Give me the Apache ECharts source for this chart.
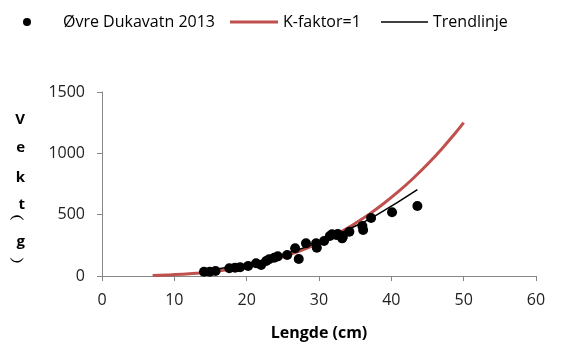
<!DOCTYPE html>
<html>
<head>
<meta charset="utf-8">
<script src="https://cdn.jsdelivr.net/npm/echarts@6/dist/echarts.min.js"></script>
<style>html,body{margin:0;padding:0;background:#fff}#c{width:573px;height:347px}</style>
</head>
<body>
<div id="c"></div>
<script>
// Observed fish: length (cm) and weight (g)
var lengths = [14.1,14.9,15.7,17.6,18.4,19.1,20.2,21.3,22.0,22.7,23.1,23.8,24.3,25.6,26.7,27.2,28.2,29.6,29.7,30.7,31.5,31.8,32.4,32.6,33.2,33.3,34.2,36.0,36.1,37.2,40.1,43.6];
var weights = [35,35,41,63,68,71,81,104,90,122,136,149,160,171,226,139,266,266,231,285,326,340,334,342,307,320,361,407,375,473,519,570];
// K-factor = 1 reference curve
var kLengths = [7,9,11,13,15,17,19,21,23,25,27,29,31,33,35,37,39,41,43,45,47,49,50];
var kWeights = [3.4,7.3,13.3,22.0,33.8,49.1,68.6,92.6,121.7,156.3,196.8,243.9,297.9,359.4,428.8,506.5,593.2,689.2,795.1,911.3,1038.2,1176.5,1250];
// Trendline
var tLengths = [14,18,22,26,30,34,38,43.6];
var tWeights = [41,77,127,193,276,378,499,704];
// Axis ticks
var xTicks = {min:0, max:60, step:10};
var yTicks = {min:0, max:1500, step:500};

var zip = function(a,b){return a.map(function(v,i){return [v,b[i]];});};
var FONT = 'Open Sans';
var FS = 16;
var chart = echarts.init(document.getElementById('c'));
chart.setOption({
  animation:false,
  textStyle:{fontFamily:FONT},
  grid:{left:102,right:37,top:92,bottom:71},
  legend:[
    {data:[{name:'Øvre Dukavatn 2013',icon:'circle'}],left:23,top:14,padding:0,itemWidth:8,itemHeight:8,
     formatter:function(n){return '{s|}'+n;},
     textStyle:{fontFamily:FONT,fontSize:FS,color:'#000',rich:{s:{width:27}}}},
    {data:[{name:'K-faktor=1',icon:'rect'}],left:230,top:14,padding:0,itemWidth:48,itemHeight:3,
     textStyle:{fontFamily:FONT,fontSize:FS,color:'#000'}},
    {data:[{name:'Trendlinje',icon:'rect'}],left:381,top:14,padding:0,itemWidth:47,itemHeight:1.5,
     textStyle:{fontFamily:FONT,fontSize:FS,color:'#000'}}
  ],
  xAxis:{
    type:'value',min:xTicks.min,max:xTicks.max,interval:xTicks.step,
    name:'Lengde (cm)',nameLocation:'middle',nameGap:49,
    nameTextStyle:{fontFamily:FONT,fontSize:FS,fontWeight:'bold',color:'#000',verticalAlign:'top'},
    axisLine:{show:true,lineStyle:{color:'#868686',width:1}},
    axisTick:{show:true,length:5,lineStyle:{color:'#868686'}},
    axisLabel:{margin:16,fontSize:FS,color:'#222',fontFamily:FONT},
    splitLine:{show:false}
  },
  yAxis:{
    type:'value',min:yTicks.min,max:yTicks.max,interval:yTicks.step,
    name:'{a|V}\n{b|e}\n{c|k}\n{d|t}\n{e|︵}\n{f|g}\n{g|︶}',nameLocation:'middle',nameGap:77,nameRotate:0,
    nameTextStyle:{fontFamily:FONT,fontSize:15,fontWeight:'bold',color:'#000',padding:[0,0,4,0],
      rich:{
        a:{fontFamily:FONT,fontSize:15,fontWeight:'bold',color:'#000',lineHeight:42},
        b:{fontFamily:FONT,fontSize:15,fontWeight:'bold',color:'#000',lineHeight:14},
        c:{fontFamily:FONT,fontSize:15,fontWeight:'bold',color:'#000',lineHeight:46},
        d:{fontFamily:FONT,fontSize:15,fontWeight:'bold',color:'#000',lineHeight:8},
        e:{fontFamily:FONT,fontSize:15,fontWeight:'bold',color:'#000',lineHeight:14},
        f:{fontFamily:FONT,fontSize:15,fontWeight:'bold',color:'#000',lineHeight:38},
        g:{fontFamily:FONT,fontSize:15,fontWeight:'bold',color:'#000',lineHeight:4}
      }},
    axisLine:{show:true,lineStyle:{color:'#868686',width:1}},
    axisTick:{show:true,length:5,lineStyle:{color:'#868686'}},
    axisLabel:{margin:17,fontSize:FS,color:'#222',fontFamily:FONT,align:'right',
      formatter:function(v){return '' + Math.round(v);}},
    splitLine:{show:false}
  },
  series:[
    {name:'K-faktor=1',type:'line',data:zip(kLengths,kWeights),smooth:true,symbol:'none',
     lineStyle:{color:'#C0504D',width:3},itemStyle:{color:'#C0504D'},z:1},
    {name:'Øvre Dukavatn 2013',type:'scatter',data:zip(lengths,weights),symbol:'circle',symbolSize:10,
     itemStyle:{color:'#000',opacity:1},z:3},
    {name:'Trendlinje',type:'line',data:zip(tLengths,tWeights),smooth:true,symbol:'none',
     lineStyle:{color:'#000',width:1.5},itemStyle:{color:'#000'},z:2}
  ]
});
</script>
</body>
</html>
